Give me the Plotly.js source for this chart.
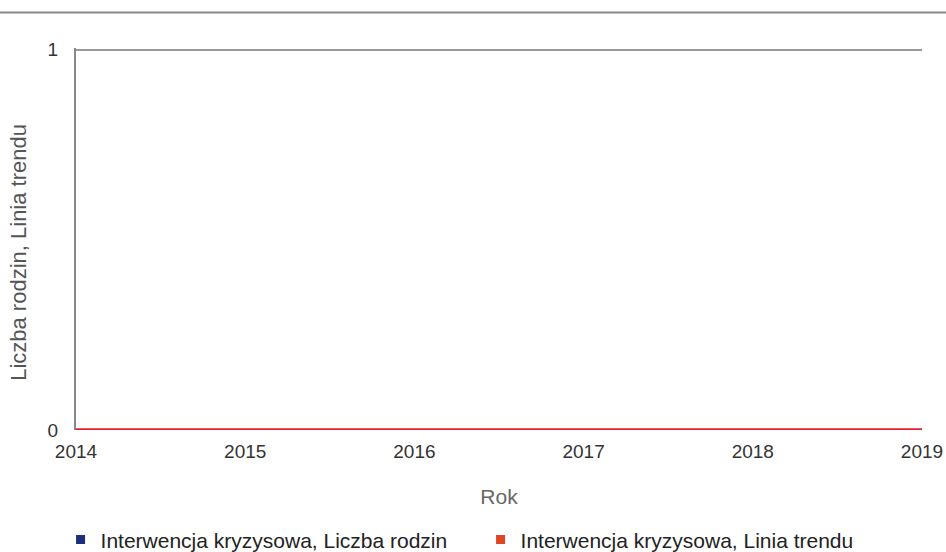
<!DOCTYPE html>
<html><head><meta charset="utf-8">
<script src="https://cdn.plot.ly/plotly-3.0.1.min.js"></script>
<style>body{margin:0;background:#fff}</style>
</head><body>
<div id="chart" style="width:946px;height:552px"></div>
<script>
const years = [2014, 2015, 2016, 2017, 2018, 2019];
const liczbaRodzin = [0, 0, 0, 0, 0, 0];
const liniaTrendu = [0, 0, 0, 0, 0, 0];
const nameRodzin = 'Interwencja kryzysowa, Liczba rodzin';
const nameTrend = 'Interwencja kryzysowa, Linia trendu';
const yTitle = 'Liczba rodzin, Linia trendu';
const colRodzin = '#1c2f7a';
const colTrend = '#e0452a';

const traces = [
  {x: years, y: liczbaRodzin, mode: 'lines', line: {color: colRodzin, width: 1.5}, showlegend: false, cliponaxis: false},
  {x: years, y: liniaTrendu, mode: 'lines', line: {color: '#de1f2c', width: 3.5}, showlegend: false, cliponaxis: false},
  {x: [null], y: [null], mode: 'markers', name: nameRodzin, marker: {symbol: 'square', size: 9, color: colRodzin}},
  {x: [null], y: [null], mode: 'markers', name: nameTrend, marker: {symbol: 'square', size: 9, color: colTrend}}
];

const layout = {
  width: 946, height: 552,
  margin: {l: 76, r: 24, t: 48, b: 122, autoexpand: false},
  paper_bgcolor: '#fff', plot_bgcolor: '#fff',
  font: {family: 'Liberation Sans, Arial, sans-serif', color: '#444', size: 19},
  xaxis: {
    range: [2014, 2019], tickvals: years, ticktext: years.map(String),
    showgrid: false, zeroline: false, showline: false,
    ticks: 'outside', ticklen: 4, tickcolor: 'rgba(0,0,0,0)',
    tickfont: {size: 19, color: '#333'},
    title: {text: 'Rok', font: {size: 21, color: '#666'}, standoff: 28}
  },
  yaxis: {
    range: [0, 1.004], tickvals: [0, 1], ticktext: ['0', '1'],
    showgrid: true, gridcolor: '#999', gridwidth: 2, zeroline: false,
    showline: true, linecolor: '#888', linewidth: 2,
    ticks: 'outside', ticklen: 12, tickcolor: 'rgba(0,0,0,0)',
    tickfont: {size: 19, color: '#333'}
  },
  annotations: [
    {text: yTitle, textangle: -90, xref: 'paper', yref: 'paper', x: -0.068, y: 0.465,
     xanchor: 'center', yanchor: 'middle', showarrow: false, font: {size: 22, color: '#555'}}
  ],
  legend: {orientation: 'h', xref: 'container', yref: 'container', x: 0.508, xanchor: 'center',
    y: 0.022, yanchor: 'middle', font: {size: 21, color: '#222'}, entrywidth: 375},
  shapes: [
    {type: 'line', xref: 'paper', yref: 'paper', x0: -0.09, x1: 1.03, y0: 1.093, y1: 1.093,
     line: {color: '#888', width: 2}}
  ]
};

Plotly.newPlot('chart', traces, layout, {displayModeBar: false, staticPlot: true});
</script>
</body></html>
